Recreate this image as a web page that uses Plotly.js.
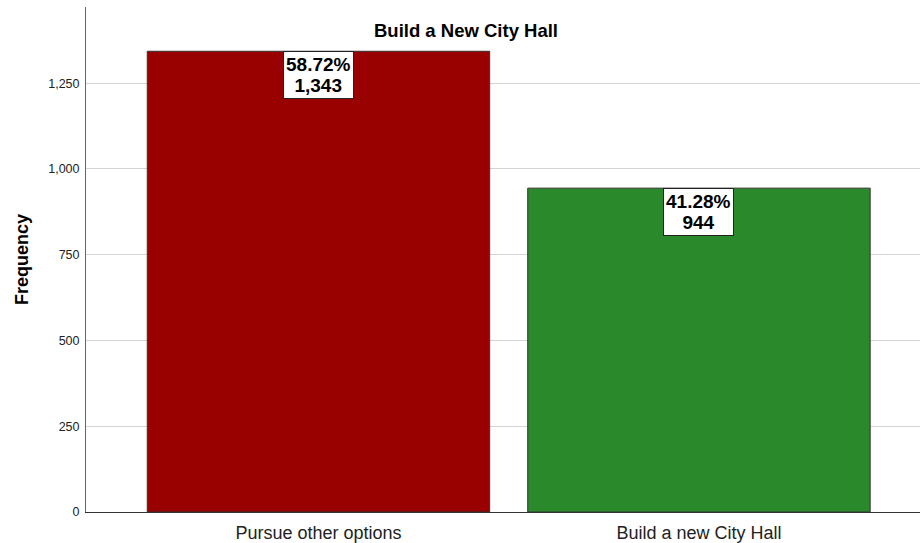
<!DOCTYPE html>
<html>
<head>
<meta charset="utf-8">
<script src="https://cdn.plot.ly/plotly-3.0.1.min.js"></script>
<style>html,body{margin:0;padding:0;background:#fff;}#chart{width:920px;height:543px;}</style>
</head>
<body>
<div id="chart"></div>
<script>
const categories = ["Pursue other options", "Build a new City Hall"];
const counts = [1343, 944];
const percents = ["58.72%", "41.28%"];
const countLabels = ["1,343", "944"];
const barColors = ["#990000", "#2a892a"];
const chartTitle = "Build a New City Hall";
const yTitle = "Frequency";
const yTickVals = [0, 250, 500, 750, 1000, 1250];
const yTickText = ["0", "250", "500", "750", "1,000", "1,250"];

const FONT = "Liberation Sans, Arial, sans-serif";

const trace = {
  type: "bar",
  x: [0, 1],
  y: counts,
  width: 0.9,
  marker: { color: barColors, line: { color: "#333333", width: 1 } },
  hoverinfo: "none"
};

const big = s => '<span style="font-size:19px"><b>' + s + '</b></span>';
const annotations = counts.map((v, i) => ({
  x: i, y: v, xref: "x", yref: "y",
  yanchor: "top", xanchor: "center",
  text: big(percents[i]) + "<br>" + big(countLabels[i]),
  showarrow: false,
  bgcolor: "#ffffff",
  bordercolor: "#222222",
  borderwidth: 1,
  borderpad: 2,
  font: { family: FONT, size: 16, color: "#000" },
  yshift: 0
}));

const layout = {
  width: 920, height: 543,
  margin: { l: 86, r: 0, t: 7, b: 31 },
  paper_bgcolor: "#fff", plot_bgcolor: "#fff",
  showlegend: false,
  title: {
    text: "<b>" + chartTitle + "</b>",
    x: 466 / 920, xref: "container", xanchor: "center",
    y: 1 - 31 / 543, yref: "container", yanchor: "middle",
    font: { family: FONT, size: 18.5, color: "#000" }
  },
  xaxis: {
    range: [-0.611, 1.581],
    tickvals: [0, 1], ticktext: categories,
    showgrid: false, zeroline: false,
    showline: true, linecolor: "#333333", linewidth: 1,
    ticks: "",
    ticklabelstandoff: 4,
    tickfont: { family: FONT, size: 18, color: "#222" },
    fixedrange: true
  },
  yaxis: {
    range: [0, 1472],
    tickvals: yTickVals, ticktext: yTickText,
    showgrid: true, gridcolor: "#d4d4d4", gridwidth: 1,
    zeroline: false,
    showline: true, linecolor: "#666666", linewidth: 1,
    ticks: "",
    ticklabelstandoff: 3,
    tickfont: { family: FONT, size: 12.5, color: "#222" },
    title: { text: "<b>" + yTitle + "</b>", standoff: 14,
      font: { family: FONT, size: 18, color: "#000" } },
    fixedrange: true
  },
  annotations: annotations
};

Plotly.newPlot("chart", [trace], layout, { displayModeBar: false, staticPlot: true });
</script>
</body>
</html>
